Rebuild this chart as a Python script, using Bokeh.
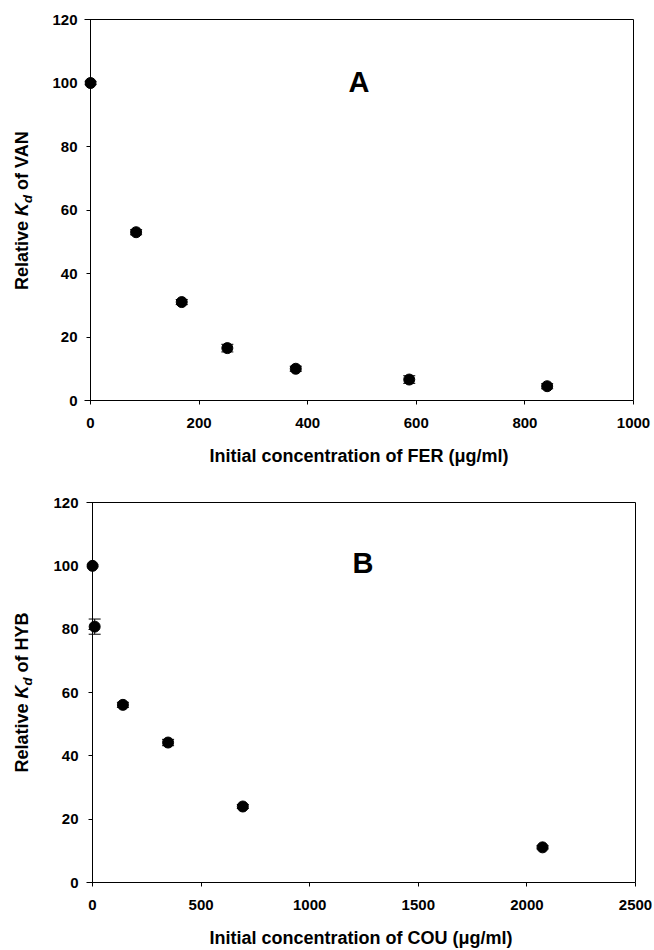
import math
from bokeh.plotting import figure
from bokeh.layouts import column, row
from bokeh.models import (Range1d, FixedTicker, Whisker, TeeHead, ColumnDataSource,
                          Label, LinearAxis)
from bokeh.embed import file_html
from bokeh.resources import INLINE

# ---- data ----
fer_x = [0, 84, 168, 252, 378, 587, 841]
van_kd = [100, 53, 31, 16.5, 10, 6.6, 4.5]
van_err = [0.5, 0.8, 0.8, 1.2, 0.8, 1.2, 0.8]

cou_x = [0, 10, 140, 348, 692, 2072]
hyb_kd = [100, 80.8, 56.1, 44.2, 24, 11.1]
hyb_err = [0.3, 2.4, 0.8, 1.0, 0.6, 0.5]

x_ticks_a = [0, 200, 400, 600, 800, 1000]
x_ticks_b = [0, 500, 1000, 1500, 2000, 2500]
y_ticks = [0, 20, 40, 60, 80, 100, 120]

FONT = "Liberation Sans"
# Arial/Liberation Sans Bold advance widths (per 1000 em)
ADV = {" ": 278, "R": 722, "e": 556, "l": 278, "a": 556, "t": 333, "i": 278, "v": 556,
       "K": 722, "d": 611, "o": 611, "f": 333, "V": 667, "A": 722, "N": 722,
       "H": 722, "Y": 667, "B": 722}

LAB_W = 40
MAIN_W = 612
PAD_PX = 6


def tw(s, size):
    return sum(ADV.get(c, 600) for c in s) * size / 1000.0


def make_plot(xs, ys, errs, xmax, xticks, xlabel, letter, letter_x, letter_y,
              height, top, frame_h, left, frame_w, ylab_standoff):
    pad = PAD_PX * xmax / (frame_w - PAD_PX)
    right = MAIN_W - left - frame_w
    bottom = height - top - frame_h
    p = figure(width=MAIN_W, height=height, output_backend="svg", toolbar_location=None,
               x_range=Range1d(-pad, xmax), y_range=Range1d(0, 120),
               min_border_left=left, min_border_right=right, min_border_top=top,
               min_border_bottom=bottom)
    p.grid.visible = False
    p.outline_line_color = None
    p.background_fill_color = "white"
    p.border_fill_color = "white"

    for ax in (p.xaxis[0], p.yaxis[0]):
        ax.axis_line_color = "black"
        ax.major_tick_line_color = "black"
        ax.minor_tick_line_color = None
        ax.major_tick_out = 4
        ax.major_tick_in = 0
        ax.major_label_text_font = FONT
        ax.major_label_text_font_style = "bold"
        ax.major_label_text_font_size = "15px"
        ax.major_label_text_color = "black"
    p.xaxis[0].ticker = FixedTicker(ticks=xticks)
    p.xaxis[0].major_label_standoff = 13
    p.xaxis[0].axis_label = xlabel
    p.xaxis[0].axis_label_text_font = FONT
    p.xaxis[0].axis_label_text_font_style = "bold"
    p.xaxis[0].axis_label_text_font_size = "18px"
    p.xaxis[0].axis_label_text_color = "black"
    p.xaxis[0].axis_label_standoff = 15

    # y tick labels (at frame edge, no line / ticks)
    ya = p.yaxis[0]
    ya.ticker = FixedTicker(ticks=y_ticks)
    ya.axis_line_color = None
    ya.major_tick_line_color = None
    ya.major_tick_out = 0
    ya.major_label_standoff = ylab_standoff

    # y axis line and ticks at x = 0
    yline = LinearAxis(fixed_location=0, ticker=FixedTicker(ticks=y_ticks),
                       major_label_overrides={t: "" for t in y_ticks},
                       axis_line_color="black", major_tick_line_color="black",
                       minor_tick_line_color=None, major_tick_out=4, major_tick_in=0,
                       major_label_standoff=0)
    p.add_layout(yline, "left")

    # box: top and right edges
    for side in ("above", "right"):
        ax = LinearAxis(ticker=FixedTicker(ticks=[]), axis_line_color="black",
                        major_tick_line_color=None, minor_tick_line_color=None)
        p.add_layout(ax, side)

    src = ColumnDataSource(dict(x=xs, y=ys,
                                lo=[a - b for a, b in zip(ys, errs)],
                                hi=[a + b for a, b in zip(ys, errs)]))
    w = Whisker(source=src, base="x", lower="lo", upper="hi", dimension="height",
                line_color="black", line_width=1,
                upper_head=TeeHead(size=12, line_color="black", line_width=1),
                lower_head=TeeHead(size=12, line_color="black", line_width=1))
    p.add_layout(w)
    p.scatter("x", "y", source=src, size=11, marker="circle",
              fill_color="black", line_color="black")

    p.add_layout(Label(x=letter_x, y=letter_y, text=letter, text_font=FONT,
                       text_font_style="bold", text_font_size="29px",
                       text_color="black", text_align="left",
                       text_baseline="alphabetic"))
    return p


def make_ylabel(yname, height, top, frame_h):
    bottom = height - top - frame_h
    q = figure(width=LAB_W, height=height, output_backend="svg", toolbar_location=None,
               x_range=Range1d(0, LAB_W), y_range=Range1d(0, frame_h),
               min_border_left=0, min_border_right=0, min_border_top=top,
               min_border_bottom=bottom, x_axis_type=None, y_axis_type=None)
    q.outline_line_color = None
    q.background_fill_color = "white"
    q.border_fill_color = "white"
    big, small = 18, 13
    parts = [("Relative", " ", big, "bold", 0), ("K", "", big, "bold italic", 0),
             ("d", "", small, "bold italic", 6), ("of " + yname, "", big, "bold", 0)]
    lead = {3: tw(" ", big)}
    total = sum(tw(t + tr, sz) for t, tr, sz, _, _ in parts) + lead[3]
    pos = frame_h / 2.0 - total / 2.0
    bx = 21
    for i, (txt, trail, sz, style, dx) in enumerate(parts):
        pos += lead.get(i, 0)
        q.add_layout(Label(x=bx + dx, y=pos, text=txt, angle=math.pi / 2,
                           text_font=FONT, text_font_style=style,
                           text_font_size=f"{sz}px", text_color="black",
                           text_align="left", text_baseline="alphabetic"))
        pos += tw(txt + trail, sz)
    return q


p1 = make_plot(fer_x, van_kd, van_err, 1000, x_ticks_a,
               "Initial concentration of FER (\u03bcg/ml)", "A", 475, 100.3,
               height=470, top=19, frame_h=381, left=44, frame_w=549, ylab_standoff=7)
l1 = make_ylabel("VAN", 470, 19, 381)
p2 = make_plot(cou_x, hyb_kd, hyb_err, 2500, x_ticks_b,
               "Initial concentration of COU (\u03bcg/ml)", "B", 1197, 100.8,
               height=480, top=32, frame_h=380, left=46, frame_w=549, ylab_standoff=8)
l2 = make_ylabel("HYB", 480, 32, 380)

layout = column(row(l1, p1, spacing=0), row(l2, p2, spacing=0), spacing=0)
open("out.html", "w").write(file_html(layout, INLINE))
